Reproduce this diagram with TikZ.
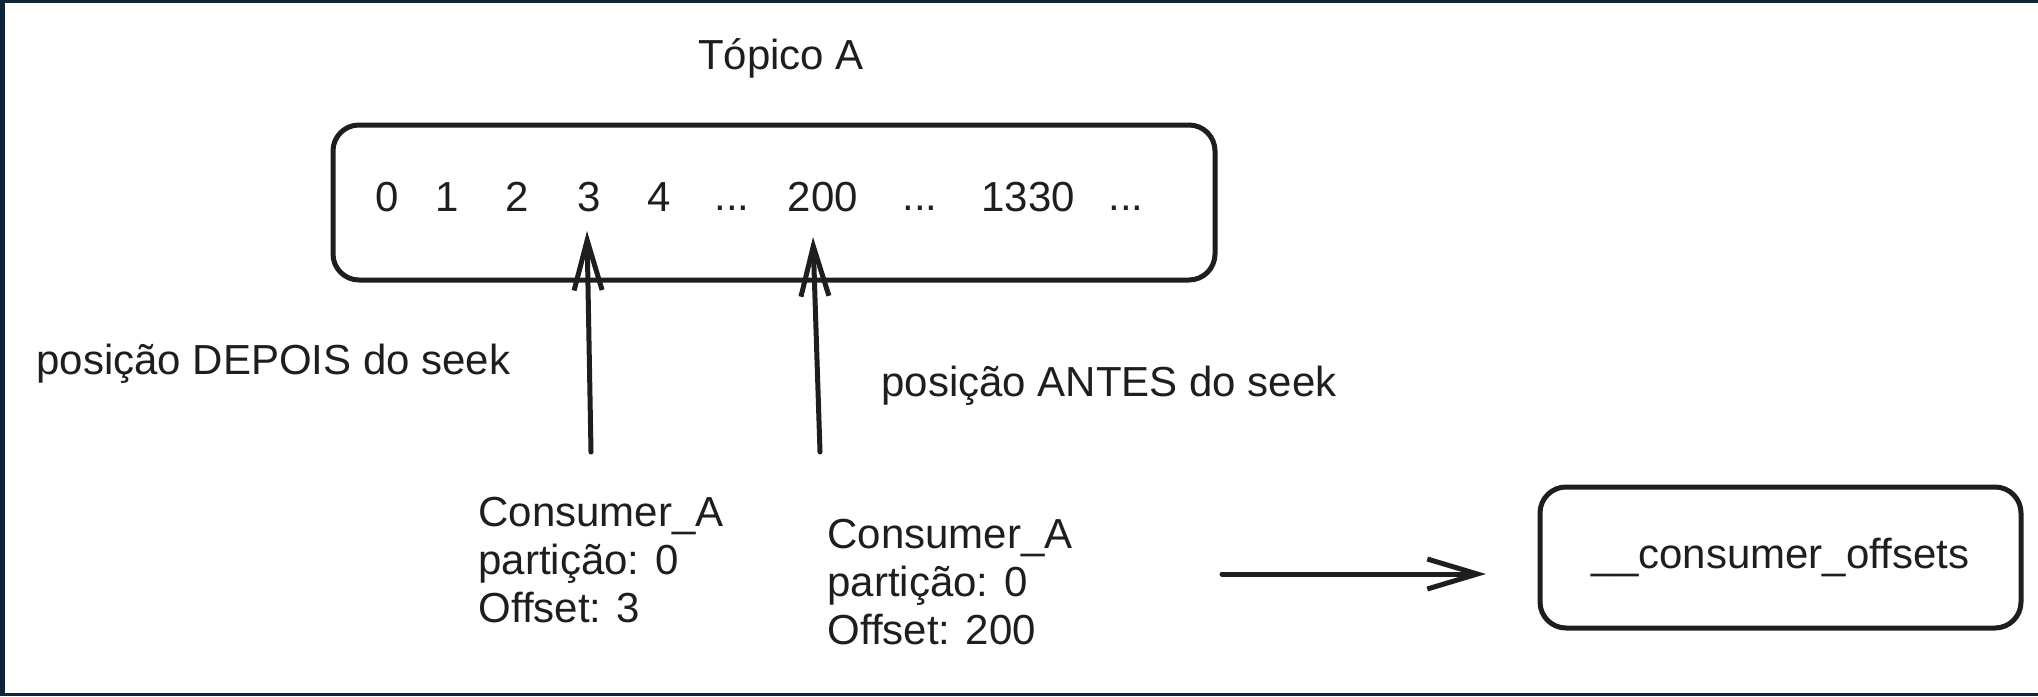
\documentclass[tikz,border=0pt]{standalone}
\usepackage{fontspec}
\setmainfont{Liberation Sans}
\usetikzlibrary{arrows.meta}
\definecolor{frame}{RGB}{13,37,58}
\definecolor{ink}{RGB}{30,30,30}
\begin{document}
\begin{tikzpicture}[x=0.5pt,y=-0.5pt,
  box/.style={draw=ink, line width=2.5pt, rounded corners=13pt},
  txt/.style={font=\fontsize{21}{24}\selectfont, text=ink, inner sep=0pt},
  conn/.style={draw=ink, line width=2.5pt, line cap=round},
  uptip/.style={-{Straight Barb[length=25pt,width=14pt]}},
  righttip/.style={-{Straight Barb[length=25pt,width=15pt]}},
]
\fill[frame] (0,0) rectangle (2038,696);
\fill[white] (5,3) rectangle (2038,693);
\useasboundingbox (0,0) rectangle (2038,696);

% topic title
\node[txt] (title) at (781,58) {Tópico A};

% topic box
\node[box, minimum width=441pt, minimum height=77.5pt] (topic) at (774,202.5) {};
\node[txt] (n0) at (387,197) {0};
\node[txt] (n1) at (447,197) {1};
\node[txt] (n2) at (517,197) {2};
\node[txt] (n3) at (589,197) {3};
\node[txt] (n4) at (659,197) {4};
\node[txt] (d1) at (732,208) {...};
\node[txt] (n200) at (823,197) {200};
\node[txt] (d2) at (920,208) {...};
\node[txt] (n1330) at (1028,197) {1330};
\node[txt] (d3) at (1126,208) {...};

% arrows into the topic
\coordinate (a1s) at (591,452);
\coordinate (a1e) at (587,231);
\coordinate (a2s) at (820,452);
\coordinate (a2e) at (813,237);
\draw[conn, uptip] (a1s) -- (a1e);
\draw[conn, uptip] (a2s) -- (a2e);

% labels
\node[txt, anchor=base west] (after) at (36,374) {posição DEPOIS do seek};
\node[txt, anchor=base west] (before) at (881,396) {posição ANTES do seek};

% consumer blocks
\node[txt, anchor=north west, align=left] (c1) at (478,497)
  {Consumer\_A\\partição: 0\\Offset: 3};
\node[txt, anchor=north west, align=left] (c2) at (827,519)
  {Consumer\_A\\partição: 0\\Offset: 200};

% offsets topic
\node[box, txt, minimum width=240.5pt, minimum height=70.5pt] (off) at (1780.5,557.5)
  {\_\_consumer\_offsets};

\coordinate (hs) at (1222,574);
\coordinate (he) at (1486,574);
\draw[conn, righttip] (hs) -- (he);
\end{tikzpicture}
\end{document}
